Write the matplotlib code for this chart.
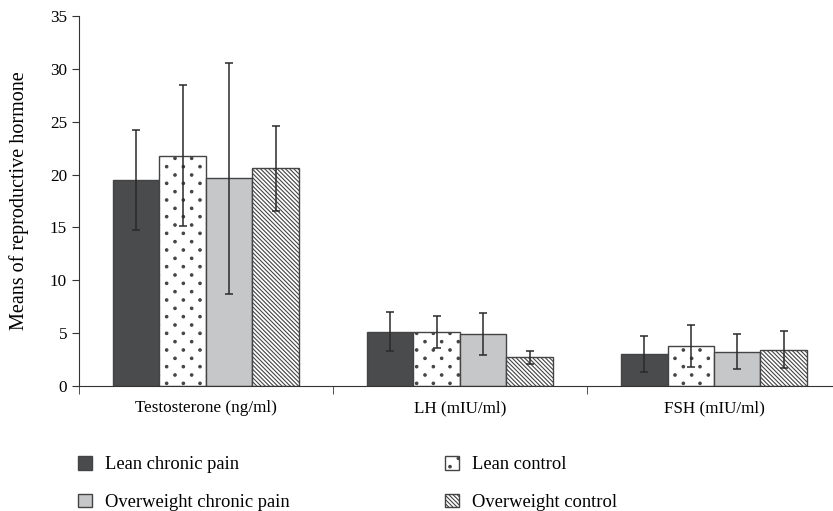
import numpy as np
from matplotlib import pyplot as plt
from matplotlib import hatch as mhatch
from matplotlib.path import Path
from matplotlib.patches import Patch

plt.rcParams['font.family'] = ['Liberation Serif', 'DejaVu Serif']
plt.rcParams['hatch.linewidth'] = 0.8
plt.rcParams['hatch.color'] = '#333333'


# sparse staggered dot texture: dots 1/6 in apart in a row, rows 1/12 in apart
class SparseDots(mhatch.Shapes):
    size = 0.15
    filled = True

    def __init__(self, hatch, density):
        n = hatch.count('d') * density
        self.cols = n
        self.num_rows = 2 * n
        self.shape_vertices = Path.unit_circle().vertices
        self.shape_codes = Path.unit_circle().codes
        if n == 0:
            self.num_shapes = 0
            self.num_vertices = 0
        else:
            self.num_shapes = (n + 1) * (n + 1) + n * n
            self.num_vertices = self.num_shapes * len(self.shape_vertices)

    def set_vertices_and_codes(self, vertices, codes):
        step = 1.0 / self.num_rows
        shape = self.shape_vertices * step * self.size
        vparts, cparts = [], []
        for row in range(self.num_rows + 1):
            if row % 2 == 0:
                cols = np.linspace(0, 1, self.cols + 1)
            else:
                cols = np.linspace(step, 1 - step, self.cols)
            for c in cols:
                vparts.append(shape + [c, row * step])
                cparts.append(self.shape_codes)
        np.concatenate(vparts, out=vertices)
        np.concatenate(cparts, out=codes)


mhatch._hatch_types.append(SparseDots)

hormones = ['Testosterone (ng/ml)', 'LH (mIU/ml)', 'FSH (mIU/ml)']
groups = ['Lean chronic pain', 'Lean control', 'Overweight chronic pain', 'Overweight control']

means = {
    'Lean chronic pain': [19.5, 5.15, 3.05],
    'Lean control': [21.8, 5.1, 3.8],
    'Overweight chronic pain': [19.65, 4.95, 3.25],
    'Overweight control': [20.6, 2.7, 3.43],
}
errs = {
    'Lean chronic pain': [4.7, 1.85, 1.7],
    'Lean control': [6.7, 1.55, 2.0],
    'Overweight chronic pain': [10.9, 2.0, 1.67],
    'Overweight control': [4.0, 0.6, 1.75],
}

colors = ['#4a4b4d', 'white', '#c6c7c9', 'white']
hatches = [None, 'd', None, '\\\\\\\\\\\\\\\\']
edge = '#444444'

fig = plt.figure(figsize=(8.33, 5.11), dpi=100)
ax = fig.add_axes([0.0948, 0.2446, 0.9148, 0.724])

x = np.arange(len(hormones))
width = 0.183
for i, g in enumerate(groups):
    pos = x + (i - 1.5) * width
    ax.bar(pos, means[g], width, color=colors[i], hatch=hatches[i],
           edgecolor=edge, linewidth=1.0, zorder=2)
    ax.errorbar(pos, means[g], yerr=errs[g], fmt='none', ecolor='#2a2a2a',
                elinewidth=1.1, capsize=3, capthick=1.1, zorder=3)

ax.set_xlim(-0.5, 2.5)
ax.set_ylim(0, 35)
ax.set_yticks(range(0, 36, 5))
ax.set_xticks(x)
ax.set_xticklabels(hormones, fontsize=12.3)
ax.set_xticks([-0.5, 0.5, 1.5, 2.5], minor=True)
ax.tick_params(axis='x', which='major', length=0, pad=10)
ax.tick_params(axis='x', which='minor', length=6, color='#333333')
ax.tick_params(axis='y', length=5, labelsize=12.3, color='#333333')
ax.set_ylabel('Means of reproductive hormone', fontsize=14.5)
ax.yaxis.set_label_coords(-0.065, 0.5)
for s in ['top', 'right']:
    ax.spines[s].set_visible(False)
for s in ['left', 'bottom']:
    ax.spines[s].set_color('#333333')

handles = [Patch(facecolor=colors[i], edgecolor=edge, hatch=hatches[i], label=g)
           for i, g in enumerate(groups)]
order = [0, 2, 1, 3]
fig.legend([handles[k] for k in order], [groups[k] for k in order],
           loc='upper left', bbox_to_anchor=(0.074, 0.14), ncol=2,
           frameon=False, fontsize=13.3, handlelength=0.75, handleheight=0.75,
           handletextpad=0.7, columnspacing=8.4, labelspacing=1.1)

fig.savefig('out.png', dpi=100)
